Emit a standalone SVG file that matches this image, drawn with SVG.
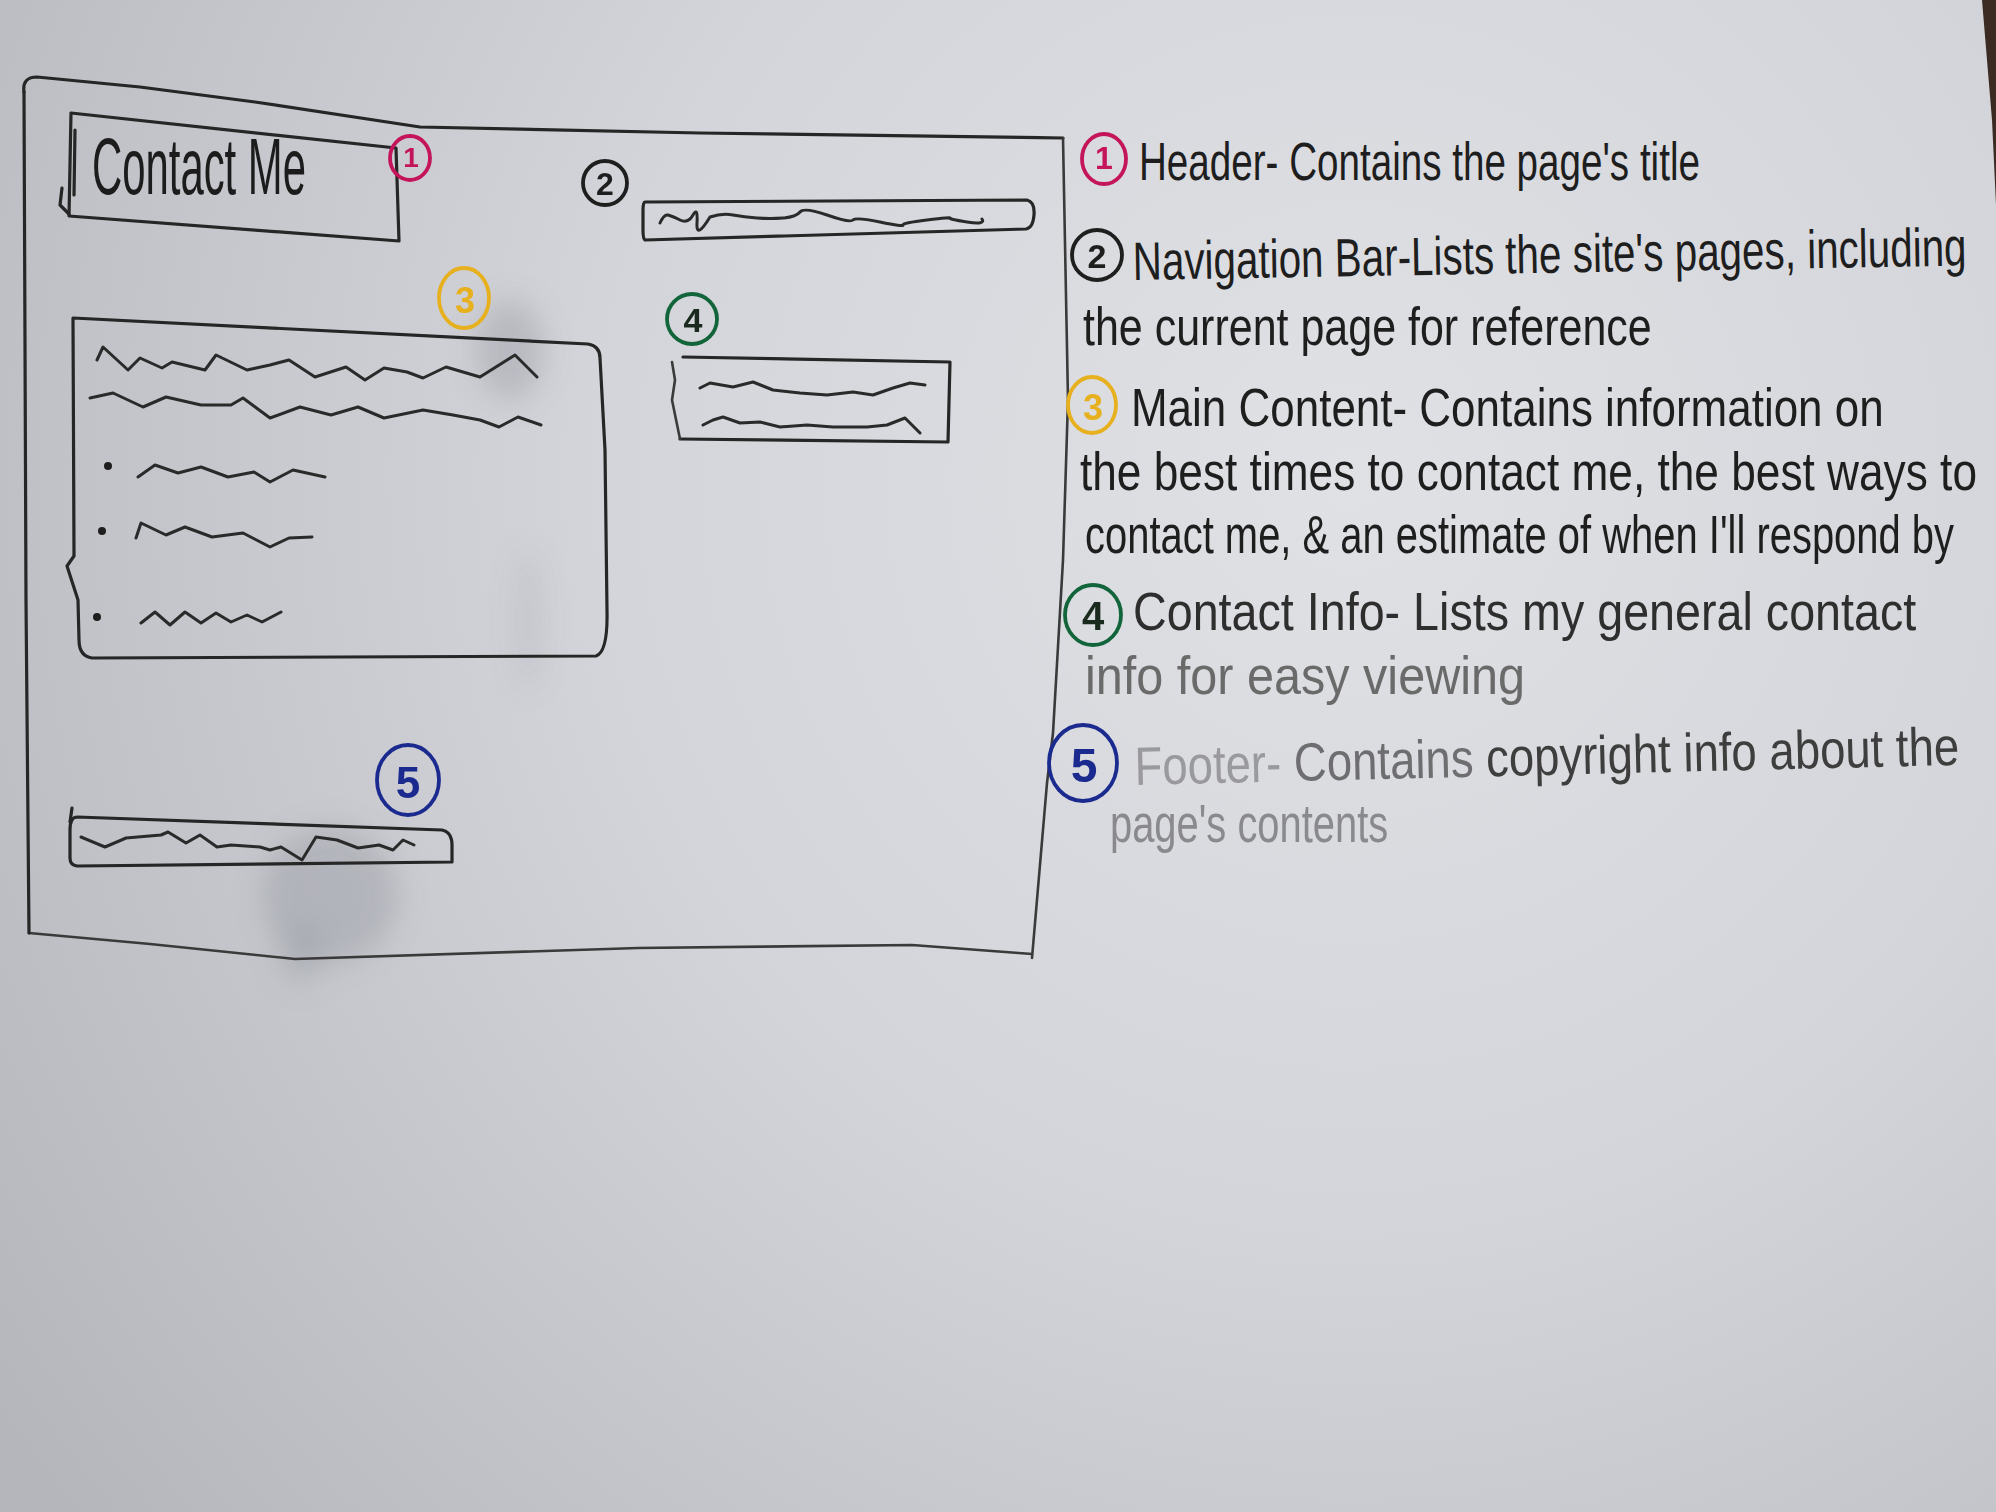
<svg xmlns="http://www.w3.org/2000/svg" width="1996" height="1512" viewBox="0 0 1996 1512">
  <defs>
    <radialGradient id="paper" cx="1350" cy="480" r="1650" gradientUnits="userSpaceOnUse">
      <stop offset="0" stop-color="#e0e1e5"/>
      <stop offset="0.45" stop-color="#d4d5da"/>
      <stop offset="1" stop-color="#b4b6bc"/>
    </radialGradient>
    <filter id="soft" x="-50%" y="-50%" width="200%" height="200%">
      <feGaussianBlur stdDeviation="14"/>
    </filter>
    <style>
      .ink { fill: none; stroke: #262626; stroke-width: 3.2; stroke-linecap: round; stroke-linejoin: round; }
      .pencil { fill: none; stroke: #3a3a3a; stroke-width: 2.6; stroke-linecap: round; stroke-linejoin: round; }
      .scribble { fill: none; stroke: #2a2a2a; stroke-width: 3; stroke-linecap: round; stroke-linejoin: round; }
      .hand { font-family: "Liberation Sans", "DejaVu Sans", sans-serif; }
      .note { font-size: 54px; }
      .badge { fill: none; stroke-width: 3.8; }
      .digit { font-family: "Liberation Sans", "DejaVu Sans", sans-serif; font-weight: bold; text-anchor: middle; dominant-baseline: central; }
      .red { stroke: #c4145a; }
      .black { stroke: #1e1e1e; }
      .yellow { stroke: #e6b01e; }
      .green { stroke: #12653a; }
      .blue { stroke: #1a2a8e; }
    </style>
  </defs>

  <!-- paper -->
  <rect x="0" y="0" width="1996" height="1512" fill="url(#paper)"/>
  <path d="M1982,0 L1996,0 L1996,205 L1992,120 L1987,60 Z" fill="#3b2b22"/>

  <!-- water stains -->
  <g id="stains" filter="url(#soft)" fill="#80838d">
    <ellipse cx="510" cy="350" rx="34" ry="50" opacity="0.30"/>
    <ellipse cx="528" cy="620" rx="14" ry="70" opacity="0.14"/>
    <ellipse cx="330" cy="895" rx="68" ry="68" opacity="0.30"/>
    <ellipse cx="300" cy="955" rx="22" ry="30" opacity="0.22"/>
  </g>

  <!-- page frame -->
  <g id="frame">
    <path class="ink" d="M24,92 Q22,77 37,77 L140,87 L255,102 L420,127 L700,133 L1063,138"/>
    <path class="pencil" d="M1063,138 L1068,400 L1063,560 L1060,612 L1053,733 L1047,783 L1032,958"/>
    <path class="pencil" d="M1032,954 L912,945 L638,948 L295,959 L150,944 L29,933"/>
    <path class="ink" d="M29,933 L26,600 L24,92"/>
  </g>

  <!-- header -->
  <g id="header">
    <path class="ink" d="M71,113 L396,148 L399,241 L69,216 L71,113"/>
    <path class="ink" d="M75,130 L74,195"/>
    <path class="ink" d="M62,188 L60,205 L69,214"/>
    <text class="hand" transform="translate(92 194) scale(0.55 1)" x="0" y="0" font-size="80" fill="#1c1c1c" textLength="389" lengthAdjust="spacingAndGlyphs">Contact Me</text>
  </g>

  <!-- navigation bar -->
  <g id="nav">
    <path class="ink" d="M645,202 L1027,200 Q1035,202 1034,215 Q1033,228 1026,229 L645,240 Q643,239 643,230 L643,210 Q643,202 645,202 Z"/>
    <path class="scribble" d="M660,223 Q664,214 668,215 T680,220 T693,215 T697,223 T710,217 Q722,213 733,215 T757,218 T783,218 T800,212 T827,215 T853,220 T880,222 T903,225 T927,220 T950,218 T967,222 T982,219"/>
  </g>

  <!-- main content -->
  <g id="main-content">
    <path class="ink" d="M73,318 L588,344 Q600,346 600,358 L605,450 L607,610 Q608,652 596,656 L92,658 Q79,656 79,640 L78,600 L67,566 L74,556 L73,318"/>
    <path class="scribble" d="M97,360 L103,347 L128,370 L140,358 L162,368 L172,362 L205,370 L216,355 L247,370 L270,365 L289,360 L315,377 L346,367 L365,380 L384,368 L407,372 L423,378 L446,367 L480,377 L515,355 L537,377"/>
    <path class="scribble" d="M90,398 L113,393 L143,407 L166,397 L201,405 L231,405 L243,398 L270,418 L300,407 L331,415 L358,407 L384,418 L423,410 L453,415 L480,420 L499,427 L518,417 L541,425"/>
    <circle cx="108" cy="466" r="4" fill="#1e1e1e"/>
    <circle cx="102" cy="531" r="4" fill="#1e1e1e"/>
    <circle cx="97" cy="617" r="4" fill="#1e1e1e"/>
    <path class="scribble" d="M138,477 L155,465 L178,473 L201,467 L228,477 L254,472 L270,482 L293,470 L325,477"/>
    <path class="scribble" d="M136,538 L141,523 L166,535 L185,527 L212,537 L243,533 L270,547 L289,538 L312,537"/>
    <path class="scribble" d="M141,623 L155,612 L170,625 L185,612 L201,623 L216,613 L231,622 L247,615 L262,622 L281,612"/>
  </g>

  <!-- contact info -->
  <g id="contact-info">
    <path class="ink" d="M683,357 L950,362 L948,442 L680,439"/>
    <path class="pencil" d="M672,362 L675,380 L672,400 L680,439"/>
    <path class="scribble" d="M700,388 L710,383 L733,387 L753,382 L773,390 L800,393 L827,395 L853,392 L873,395 L893,388 L910,383 L925,385"/>
    <path class="scribble" d="M703,425 L713,420 L723,417 L740,423 L760,422 L780,427 L807,425 L833,427 L867,427 L887,425 L905,418 L920,433"/>
  </g>

  <!-- footer -->
  <g id="footer">
    <path class="ink" d="M77,817 L442,830 Q452,832 452,845 L452,862 L77,866 Q70,865 70,858 L70,830 Q70,817 77,817"/>
    <path class="ink" d="M70,822 L72,808"/>
    <path class="scribble" d="M81,837 L105,847 L126,838 L161,835 L168,832 L186,843 L200,835 L217,847 L231,845 L260,847 L270,850 L281,847 L302,860 L316,837 L337,840 L358,848 L379,845 L393,850 L403,840 L414,845"/>
  </g>

  <!-- numbered markers on the wireframe -->
  <g id="markers">
    <g id="marker-1">
      <ellipse class="badge red" cx="410" cy="158" rx="20" ry="22"/>
      <text class="digit" x="411" y="157" font-size="28" fill="#c4145a">1</text>
    </g>
    <g id="marker-2">
      <ellipse class="badge black" cx="605" cy="183" rx="22" ry="22"/>
      <text class="digit" x="605" y="184" font-size="32" fill="#1e1e1e">2</text>
    </g>
    <g id="marker-3">
      <ellipse class="badge yellow" cx="464" cy="298" rx="25" ry="30"/>
      <text class="digit" x="465" y="300" font-size="36" fill="#e6b01e">3</text>
    </g>
    <g id="marker-4">
      <ellipse class="badge green" cx="692" cy="319" rx="25" ry="25"/>
      <text class="digit" x="693" y="320" font-size="34" fill="#1a2a1e">4</text>
    </g>
    <g id="marker-5">
      <ellipse class="badge blue" cx="408" cy="780" rx="31" ry="35"/>
      <text class="digit" x="408" y="782" font-size="44" fill="#1a2a8e">5</text>
    </g>
  </g>

  <!-- legend notes: each line is narrowed with scale(0.65 1), so textLength is width / 0.65 -->
  <g id="notes" class="hand" fill="#1e1e1e">
    <g id="note-1">
      <ellipse class="badge red" cx="1104" cy="159" rx="22" ry="25"/>
      <text class="digit" x="1104" y="158" font-size="32" fill="#c4145a">1</text>
      <text class="note" transform="translate(1139 180) scale(0.65 1)" x="0" y="0" textLength="863" lengthAdjust="spacingAndGlyphs">Header- Contains the page's title</text>
    </g>
    <g id="note-2">
      <ellipse class="badge black" cx="1097" cy="255" rx="25" ry="25"/>
      <text class="digit" x="1097" y="256" font-size="34" fill="#1e1e1e">2</text>
      <text class="note" transform="translate(1133 280) rotate(-1) scale(0.65 1)" x="0" y="0" textLength="1283" lengthAdjust="spacingAndGlyphs">Navigation Bar-Lists the site's pages, including</text>
      <text class="note" transform="translate(1083 345) scale(0.65 1)" x="0" y="0" textLength="875" lengthAdjust="spacingAndGlyphs">the current page for reference</text>
    </g>
    <g id="note-3">
      <ellipse class="badge yellow" cx="1092" cy="405" rx="24" ry="28"/>
      <text class="digit" x="1093" y="407" font-size="36" fill="#e6b01e">3</text>
      <text class="note" transform="translate(1131 426) scale(0.65 1)" x="0" y="0" textLength="1158" lengthAdjust="spacingAndGlyphs">Main Content- Contains information on</text>
      <text class="note" transform="translate(1080 490) scale(0.65 1)" x="0" y="0" textLength="1380" lengthAdjust="spacingAndGlyphs">the best times to contact me, the best ways to</text>
      <text class="note" transform="translate(1085 553) scale(0.65 1)" x="0" y="0" textLength="1337" lengthAdjust="spacingAndGlyphs">contact me, &amp; an estimate of when I'll respond by</text>
    </g>
    <g id="note-4">
      <ellipse class="badge green" cx="1093" cy="615" rx="28" ry="30"/>
      <text class="digit" x="1093" y="616" font-size="40" fill="#1a2a1e">4</text>
      <text class="note" transform="translate(1133 630) scale(0.65 1)" x="0" y="0" textLength="1205" lengthAdjust="spacingAndGlyphs" fill="#2e2e2e">Contact Info- Lists my general contact</text>
      <text class="note" transform="translate(1085 694) scale(0.65 1)" x="0" y="0" textLength="677" lengthAdjust="spacingAndGlyphs" fill="#6a6a6a">info for easy viewing</text>
    </g>
    <g id="note-5">
      <ellipse class="badge blue" cx="1083" cy="763" rx="34" ry="38"/>
      <text class="digit" x="1084" y="765" font-size="48" fill="#1a2a8e">5</text>
      <text class="note" transform="translate(1135 785) rotate(-1.4) scale(0.65 1)" x="0" y="0" textLength="1269" lengthAdjust="spacingAndGlyphs"><tspan fill="#9a9a9e">Footer- </tspan><tspan fill="#6e6e70">Contains </tspan><tspan fill="#3e3e3e">copyright info about the</tspan></text>
      <text class="note" transform="translate(1110 842) scale(0.65 1)" x="0" y="0" textLength="428" lengthAdjust="spacingAndGlyphs" fill="#8a8a8e">page's contents</text>
    </g>
  </g>
</svg>
